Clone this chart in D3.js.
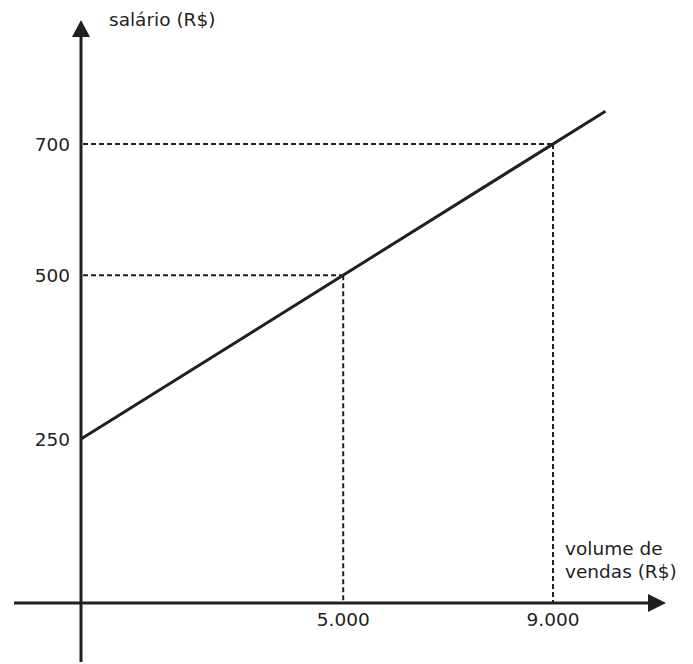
<!DOCTYPE html>
<html>
<head>
<meta charset="utf-8">
<script src="https://cdn.jsdelivr.net/npm/d3@7"></script>
<style>
  body { margin: 0; background: #fff; }
  text { font-family: Verdana, "DejaVu Sans", sans-serif; font-size: 18.5px; fill: #231f20; }
</style>
</head>
<body>
<div class="chart"></div>
<script>
// salário x volume de vendas
WIDTH = 693
HEIGHT = 664
INK = "#231f20"

// data
var xTicks = [5000, 9000]
var xTickLabels = ["5.000", "9.000"]
var yTicks = [250, 500, 700]
var yTickLabels = ["250", "500", "700"]
var guidePoints = [[5000, 500], [9000, 700]]   // dashed guides
var lineVolume = [0, 10000]
var lineSalary = [250, 750]

var x = d3.scaleLinear().domain([0, 9000]).range([81, 553])
var y = d3.scaleLinear().domain([0, 700]).range([603, 144])

var svg = d3.select(".chart").append("svg")
            .attr("width", WIDTH)
            .attr("height", HEIGHT)

// dashed guides
guidePoints.forEach(function(p) {
  svg.append("line")
     .style("stroke", INK)
     .style("stroke-width", "2px")
     .style("stroke-dasharray", "5,3")
     .attr("x1", x(0) + 2).attr("y1", y(p[1]))
     .attr("x2", x(p[0])).attr("y2", y(p[1]))
  svg.append("line")
     .style("stroke", INK)
     .style("stroke-width", "2px")
     .style("stroke-dasharray", "5,3")
     .attr("x1", x(p[0])).attr("y1", y(p[1]))
     .attr("x2", x(p[0])).attr("y2", y(0))
})

// the salary line
var line = d3.line().x(function(d) { return x(d[0]) }).y(function(d) { return y(d[1]) })
svg.append("path")
   .datum(d3.zip(lineVolume, lineSalary))
   .attr("d", line)
   .style("fill", "none")
   .style("stroke", INK)
   .style("stroke-width", "3px")

// axes
svg.append("line")
   .style("stroke", INK).style("stroke-width", "3px")
   .attr("x1", 14).attr("y1", y(0))
   .attr("x2", 650).attr("y2", y(0))
svg.append("line")
   .style("stroke", INK).style("stroke-width", "3px")
   .attr("x1", x(0)).attr("y1", 662)
   .attr("x2", x(0)).attr("y2", 35)

// arrow heads
svg.append("path")
   .attr("d", "M666," + y(0) + " L648," + (y(0) - 9) + " L648," + (y(0) + 9) + " Z")
   .style("fill", INK)
svg.append("path")
   .attr("d", "M" + x(0) + ",20 L" + (x(0) - 9) + ",37 L" + (x(0) + 9) + ",37 Z")
   .style("fill", INK)

// tick labels
svg.selectAll(".ylab").data(yTicks).enter().append("text")
   .attr("x", 70)
   .attr("y", function(d) { return y(d) })
   .attr("dy", "0.36em")
   .attr("text-anchor", "end")
   .text(function(d, i) { return yTickLabels[i] })

svg.selectAll(".xlab").data(xTicks).enter().append("text")
   .attr("x", function(d) { return x(d) })
   .attr("y", 626)
   .attr("text-anchor", "middle")
   .text(function(d, i) { return xTickLabels[i] })

// axis titles
svg.append("text").attr("x", 109).attr("y", 26).text("salário (R$)")
svg.append("text").attr("x", 565).attr("y", 555).text("volume de")
svg.append("text").attr("x", 565).attr("y", 578).text("vendas (R$)")
</script>
</body>
</html>
